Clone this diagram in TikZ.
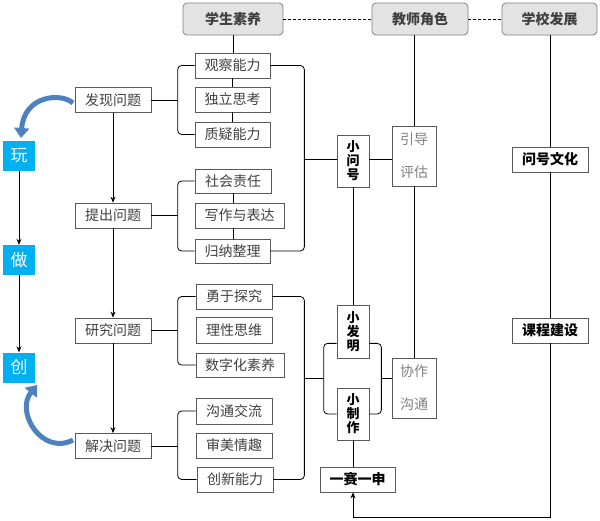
\documentclass[tikz,border=0pt]{standalone}
\usepackage{fontspec}
\setmainfont{Noto Sans CJK SC}
\usepackage{tikz}
\usetikzlibrary{arrows, arrows.meta}
\definecolor{boxline}{HTML}{595959}
\definecolor{txtgray}{HTML}{404040}
\definecolor{lightgray}{HTML}{808080}
\definecolor{headfill}{HTML}{E3E3E3}
\definecolor{playcyan}{RGB}{0,176,240}
\definecolor{curlblue}{RGB}{79,129,189}
\tikzstyle{arrow} = [-{Stealth[length=6pt,width=5pt]}]
\tikzstyle{line} = [line width=0.8pt]
\tikzstyle{bracket} = [line width=0.8pt, rounded corners=4pt]
\tikzstyle{head} = [draw=lightgray, fill=headfill, rounded corners=4pt, line width=0.8pt, inner sep=0pt,
	font=\fontsize{14}{16}\selectfont\bfseries, text=txtgray]
\tikzstyle{skill} = [draw=boxline, line width=0.7pt, inner sep=0pt, minimum height=25pt,
	font=\fontsize{14}{16}\selectfont, text=txtgray]
\tikzstyle{stage} = [skill, minimum width=76pt]
\tikzstyle{play} = [fill=playcyan, inner sep=0pt, minimum width=32pt, minimum height=30pt,
	font=\fontsize{17}{19}\selectfont, text=white]
\tikzstyle{tall} = [draw=boxline, line width=0.7pt, inner sep=0pt, minimum width=32pt, align=center,
	font=\fontsize{13}{14}\selectfont\bfseries]
\tikzstyle{role} = [draw=boxline, line width=0.7pt, inner sep=0pt, minimum width=44pt, minimum height=60pt,
	align=center, font=\fontsize{14}{33}\selectfont, text=lightgray]
\tikzstyle{school} = [draw=boxline, line width=0.7pt, inner sep=0pt, minimum width=76pt, minimum height=25pt,
	font=\fontsize{14}{16}\selectfont\bfseries]
\tikzstyle{curl} = [draw=curlblue, line width=5pt, -{Triangle[width=15pt,length=10pt]}]
\begin{document}
\begin{tikzpicture}[x=1pt, y=-1pt]
\useasboundingbox (0,0) rectangle (600,520);
% headers
\node[head, minimum width=100pt, minimum height=32pt] (xsheng) at (233,19) {学生素养};
\node[head, minimum width=96pt, minimum height=32pt] (jiaoshi) at (420,19) {教师角色};
\node[head, minimum width=95pt, minimum height=32pt] (xuexiao) at (549.5,19) {学校发展};
\draw[line, dash pattern=on 3pt off 2pt] (xsheng.east) -- (jiaoshi.west);
\draw[line, dash pattern=on 3pt off 2pt] (jiaoshi.east) -- (xuexiao.west);

% play / do / create
\node[play] (wan) at (19,155.5) {玩};
\node[play] (zuo) at (19,260) {做};
\node[play] (chuang) at (19,367.5) {创};
\draw[line, arrow] (wan.south) -- (zuo.north);
\draw[line, arrow] (zuo.south) -- (chuang.north);

% stages
\node[stage] (faxian) at (113,100) {发现问题};
\node[stage] (tichu) at (113,215.5) {提出问题};
\node[stage] (yanjiu) at (113,330.5) {研究问题};
\node[stage] (jiejue) at (113,446) {解决问题};
\draw[line, arrow] (faxian.south) -- (tichu.north);
\draw[line, arrow] (tichu.south) -- (yanjiu.north);
\draw[line, arrow] (yanjiu.south) -- (jiejue.north);

\draw[curl] (73,103) .. controls (60,92) and (24,96) .. (21,138);
\draw[curl] (73,440) .. controls (42,456) and (15,412) .. (37,385);

% skills
\node[skill, minimum width=75pt] (guancha) at (232.5,65.5) {观察能力};
\node[skill, minimum width=75pt] (duli) at (232.5,99.5) {独立思考};
\node[skill, minimum width=75pt] (zhiyi) at (232.5,134.5) {质疑能力};
\node[skill, minimum width=76pt, minimum height=24pt] (shehui) at (233,181) {社会责任};
\node[skill, minimum width=89pt] (xiezuo) at (239.5,215.5) {写作与表达};
\node[skill, minimum width=75pt, minimum height=24pt] (guina) at (232.5,251) {归纳整理};
\node[skill, minimum width=76pt] (yongyu) at (234,296.5) {勇于探究};
\node[skill, minimum width=76pt, minimum height=26pt] (lixing) at (234,330) {理性思维};
\node[skill, minimum width=88pt, minimum height=24pt] (shuzi) at (240,365) {数字化素养};
\node[skill, minimum width=76pt, minimum height=26pt] (goutong) at (234,411) {沟通交流};
\node[skill, minimum width=76pt] (shenmei) at (234,445.5) {审美情趣};
\node[skill, minimum width=76pt] (chuangxin) at (235,479.5) {创新能力};

\draw[line] (xsheng.south) -- (xsheng.south |- guancha.north);
\draw[line] (guancha.south) -- (duli.north);
\draw[line] (duli.south) -- (zhiyi.north);
\draw[line] (shehui.south) -- (shehui.south |- xiezuo.north);
\draw[line] (shehui.south |- xiezuo.south) -- (shehui.south |- guina.north);

% left brackets
\draw[line] (faxian.east) -- ++(27,0);
\draw[bracket] (guancha.west) -- ++(-17,0) |- (zhiyi.west);
\draw[line] (tichu.east) -- ++(27,0);
\draw[bracket] (shehui.west) -- ++(-17,0) |- (guina.west);
\draw[line] (yanjiu.east) -- ++(27,0);
\draw[bracket] (yongyu.west) -- ++(-18,0) |- (shuzi.west);
\draw[line] (jiejue.east) -- ++(27,0);
\draw[bracket] (goutong.west) -- ++(-18,0) |- (chuangxin.west);

% right brackets
\draw[bracket] (guancha.east) -- ++(34,0) |- (guina.east);
\draw[bracket] (yongyu.east) -- ++(32,0) |- (chuangxin.east);

% small works
\node[tall, minimum height=52pt] (xwh) at (353,161) {小\\问\\号};
\node[tall, minimum height=53pt] (xfm) at (353,331.5) {小\\发\\明};
\node[tall, minimum height=52pt] (xzz) at (353,414) {小\\制\\作};
\node[school, minimum width=75pt] (yisai) at (357.5,479.5) {一赛一申};
\node[role] (yindao) at (414,156) {引导\\评估};
\node[role] (xiezuogt) at (414,388) {协作\\沟通};

\coordinate (mid1) at (304,159);
\draw[line] (mid1) -- (mid1 -| xwh.west);
\draw[line] (xwh.east |- mid1) -- (mid1 -| yindao.west);
\draw[line] (xwh.south) -- (xfm.north);
\draw[line] (xzz.south) -- (yisai.north -| xzz.south);

\coordinate (mid2) at (304,378.5);
\coordinate (mid3) at (381,378.5);
\draw[line] (mid2) -- ++(20,0);
\draw[bracket] ([yshift=15pt]xfm.south west) -- ++(-13,0) |- (xzz.west);
\draw[bracket] ([yshift=15pt]xfm.south east) -- ++(12,0) |- (xzz.east);
\draw[line] (mid3) -- (mid3 -| xiezuogt.west);

\draw[line] (jiaoshi.south -| yindao.north) -- (yindao.north);
\draw[line] (yindao.south) -- (xiezuogt.north);

% school
\node[school] (wenhao) at (550,159.5) {问号文化};
\node[school] (kecheng) at (550,330.5) {课程建设};
\draw[line] (xuexiao.south -| wenhao.north) -- (wenhao.north);
\draw[line] (wenhao.south) -- (kecheng.north);
\draw[line, arrow] (kecheng.south) -- ++(0,174) -| (yisai.south -| xzz.south);
\end{tikzpicture}
\end{document}
